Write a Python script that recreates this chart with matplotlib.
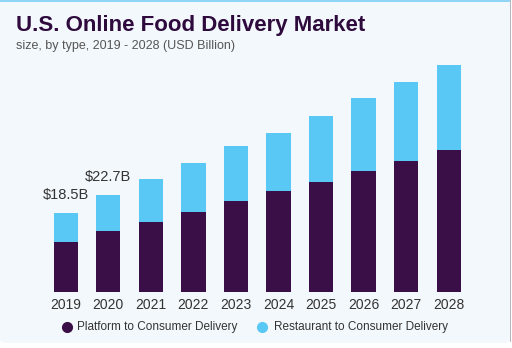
import matplotlib
matplotlib.use("Agg")
import matplotlib.pyplot as plt
from matplotlib.patches import FancyBboxPatch, Rectangle
from matplotlib.lines import Line2D
import numpy as np

years = ["2019", "2020", "2021", "2022", "2023", "2024", "2025", "2026", "2027", "2028"]
platform = [11.8, 14.3, 16.5, 18.8, 21.3, 23.6, 25.7, 28.3, 30.7, 33.3]
restaurant = [6.7, 8.4, 10.0, 11.4, 13.0, 13.8, 15.7, 17.2, 18.6, 20.0]
labels = {0: "$18.5B", 1: "$22.7B"}

DARK = "#3a0f47"
LIGHT = "#5ac8f5"
W, H = 512, 348

plt.rcParams["font.family"] = ["Liberation Sans", "DejaVu Sans"]

fig = plt.figure(figsize=(W / 100, H / 100), dpi=100, facecolor="white")

# panel de fondo
fig.patches.append(FancyBboxPatch((0, 5 / H), 510 / W, 343 / H, boxstyle="round,pad=0,rounding_size=0.012",
                                  transform=fig.transFigure, facecolor="#f3f8fc", edgecolor="none", zorder=-3))
fig.patches.append(Rectangle((0, 1 - 2 / H), 510 / W, 2 / H, transform=fig.transFigure,
                             facecolor="#8ed5f6", edgecolor="none", zorder=-2))
fig.patches.append(Rectangle((509.5 / W, 6 / H), 1.5 / W, 342 / H, transform=fig.transFigure,
                             facecolor="#b9b3c0", edgecolor="none", zorder=-2))

ax = fig.add_axes([44.5 / W, 56.3 / H, 425.5 / W, 255 / H])
ax.set_facecolor("none")
x = np.arange(len(years))
ax.bar(x, platform, width=0.57, color=DARK, zorder=2)
ax.bar(x, restaurant, width=0.57, bottom=platform, color=LIGHT, zorder=2)
for i, t in labels.items():
    ax.text(i, platform[i] + restaurant[i] + 2.6, t, ha="center", va="bottom",
            fontsize=10.5, color="#333333")
ax.set_xlim(-0.5, len(years) - 0.5)
ax.set_ylim(0, 60)
ax.set_xticks(x, years)
ax.tick_params(axis="x", length=0, pad=4.5, labelsize=10, labelcolor="#333333")
ax.set_yticks([])
for s in ax.spines.values():
    s.set_visible(False)

fig.text(16 / W, 1 - 25.5 / H, "U.S. Online Food Delivery Market", fontsize=16, weight="bold",
         color="#2e0a3d", va="center", ha="left")
fig.text(16 / W, 1 - 45.5 / H, "size, by type, 2019 - 2028 (USD Billion)", fontsize=9,
         color="#555555", va="center", ha="left")

# leyenda
ly = 1 - 327 / H
fig.add_artist(Line2D([67 / W], [ly], marker="o", markersize=7, color=DARK, linestyle="none",
                      transform=fig.transFigure))
fig.text(77 / W, ly, "Platform to Consumer Delivery", fontsize=8.5, color="#333333",
         ha="left", va="center")
fig.add_artist(Line2D([262 / W], [ly], marker="o", markersize=7, color=LIGHT, linestyle="none",
                      transform=fig.transFigure))
fig.text(274 / W, ly, "Restaurant to Consumer Delivery", fontsize=8.5, color="#333333",
         ha="left", va="center")

fig.savefig("out.png", dpi=100, facecolor="white")
